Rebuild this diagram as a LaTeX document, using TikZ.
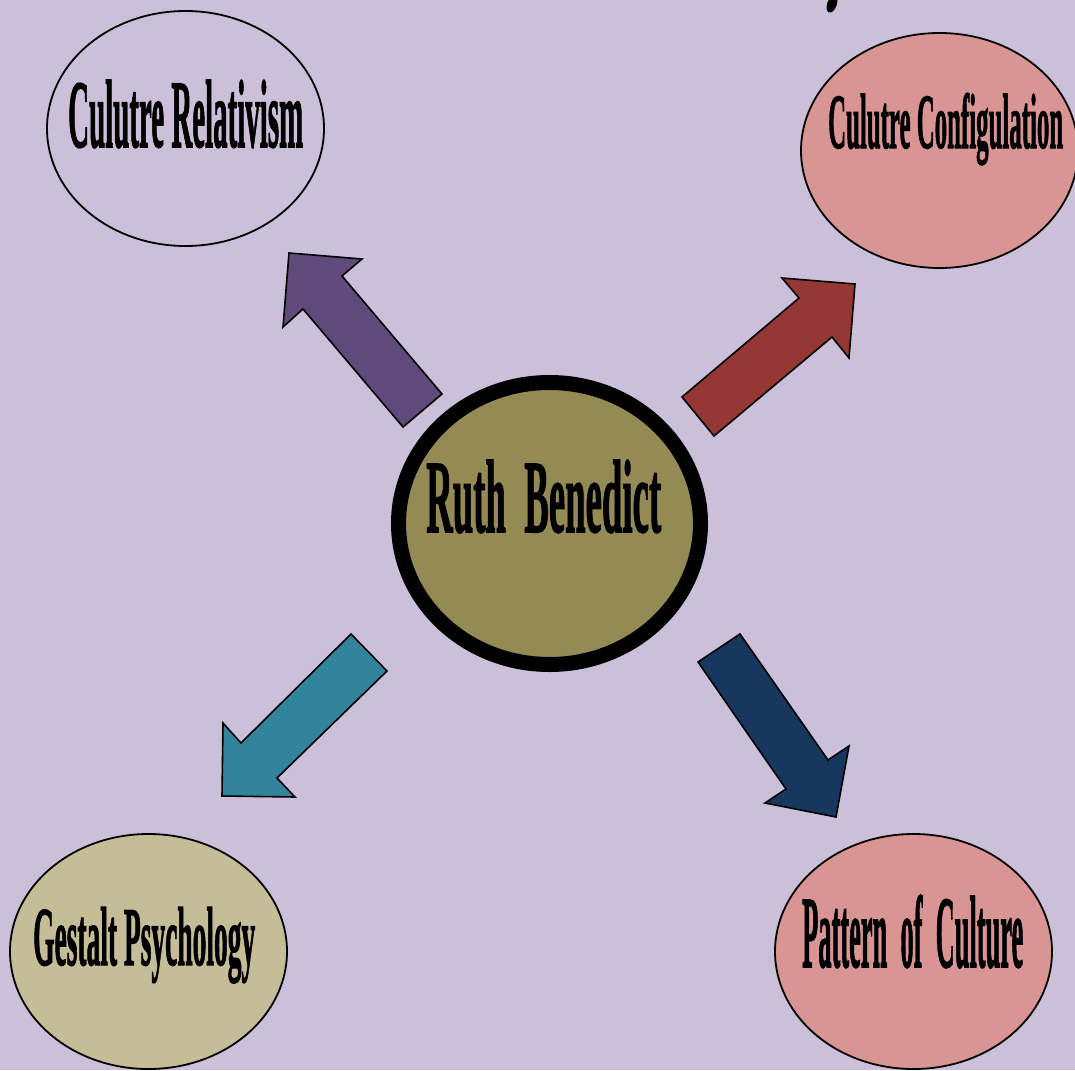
\documentclass[tikz,border=0pt]{standalone}
\usepackage{fontspec}
\usepackage{graphicx}
\setmainfont{Liberation Serif}[BoldFeatures={FakeBold=1.6}]
\usetikzlibrary{shapes.geometric}

\definecolor{bgcol}{HTML}{CCBFDA}
\definecolor{purplearrow}{HTML}{604A7B}
\definecolor{redarrow}{HTML}{953735}
\definecolor{tealarrow}{HTML}{31849B}
\definecolor{navyarrow}{HTML}{17375E}
\definecolor{olivefill}{HTML}{948A54}
\definecolor{pinkfill}{HTML}{D99594}
\definecolor{tanfill}{HTML}{C4BD97}

% condensed heavy serif caption squeezed into a given width and height
\newcommand{\squeezed}[3]{\resizebox{#1}{#2}{\bfseries #3}}

\tikzset{
  bubble/.style={ellipse, draw=black, line width=1.8pt, inner sep=0pt,
    minimum width=277pt, minimum height=235pt},
  caption/.style={anchor=base west, inner sep=0pt, text=black},
  blockarrow/.style={draw=black, line width=1.6pt, line join=miter}
}

\begin{document}
\begin{tikzpicture}[x=1pt, y=-1pt]
  \useasboundingbox (0,0) rectangle (1075,1070);
  \fill[bgcol] (0,0) rectangle (1075,1070);

  % tail of a glyph from the heading above the frame
  \fill[black, rotate around={-20:(832,4)}] (832,4) ellipse (4.8pt and 9pt);

  % outer ideas
  \node[bubble] (relativism) at (185.5,128.5) {};
  \node[bubble, fill=pinkfill] (configuration) at (939.5,150.5) {};
  \node[bubble, fill=tanfill] (gestalt) at (148.5,951.5) {};
  \node[bubble, fill=pinkfill] (pattern) at (913.5,951.5) {};

  % central figure
  \node[ellipse, draw=black, line width=15pt, fill=olivefill, inner sep=0pt,
    minimum width=302pt, minimum height=282pt] (benedict) at (549.5,523.5) {};

  % captions
  \node[caption] (relativism-text) at (68,147)
    {\squeezed{235pt}{67pt}{Culutre Relativism}};
  \node[caption] (configuration-text) at (828,148)
    {\squeezed{235pt}{55pt}{Culutre Configulation}};
  \node[caption] (gestalt-text) at (33,965)
    {\squeezed{222pt}{58pt}{Gestalt Psychology}};
  \node[caption] (pattern-text) at (802,967)
    {\squeezed{221pt}{72pt}{Pattern\ \ of\ \ Culture}};
  \node[caption] (benedict-text) at (426,532)
    {\squeezed{235pt}{72pt}{Ruth\ \ Benedict}};

  % block arrows pointing from the centre to each idea
  \draw[blockarrow, fill=purplearrow]
    (403,427) -- (442,394) -- (342,276) -- (362,259) -- (289,253)
    -- (283,327) -- (303,309) -- cycle;
  \draw[blockarrow, fill=redarrow]
    (682,397) -- (714,436) -- (832,337) -- (849,358) -- (855,284)
    -- (782,278) -- (799,298) -- cycle;
  \draw[blockarrow, fill=tealarrow]
    (387,671) -- (351,634) -- (241,743) -- (223,723) -- (222,796)
    -- (295,797) -- (277,778) -- cycle;
  \draw[blockarrow, fill=navyarrow]
    (698,662) -- (740,634) -- (828,760) -- (849,746) -- (836,817)
    -- (765,803) -- (786,789) -- cycle;
\end{tikzpicture}
\end{document}
